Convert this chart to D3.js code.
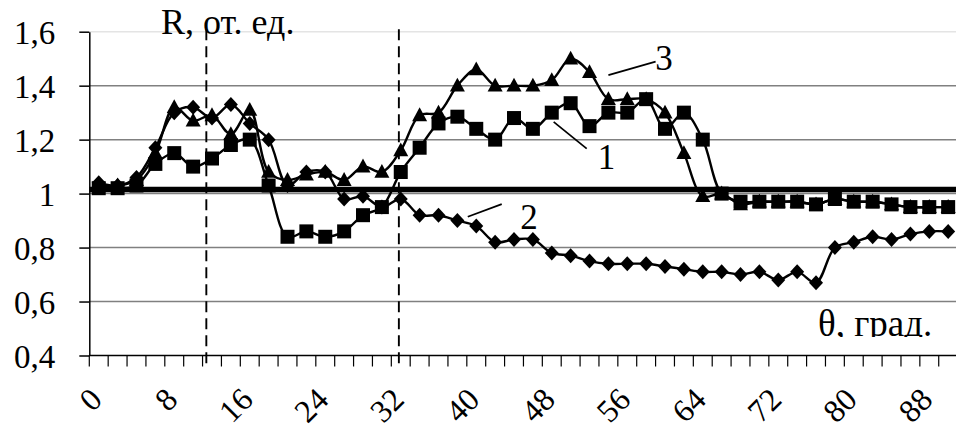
<!DOCTYPE html>
<html>
<head>
<meta charset="utf-8">
<script src="https://cdn.jsdelivr.net/npm/d3@7"></script>
<style>
  body { margin: 0; background: #fff; }
  svg text { font-family: "Liberation Serif", "Times New Roman", "DejaVu Serif", serif; fill: #000; }
</style>
</head>
<body>
<div id="chart"></div>
<script>
// angles, degrees (one category every 2 degrees)
var theta = [0, 2, 4, 6, 8, 10, 12, 14, 16, 18, 20, 22, 24, 26, 28, 30, 32, 34, 36, 38, 40, 42, 44,
             46, 48, 50, 52, 54, 56, 58, 60, 62, 64, 66, 68, 70, 72, 74, 76, 78, 80, 82, 84, 86, 88, 90];
var tickLabels = [0, 8, 16, 24, 32, 40, 48, 56, 64, 72, 80, 88];
var yTicks = [0.4, 0.6, 0.8, 1.0, 1.2, 1.4, 1.6];

// series 1 - squares
var series1 = [1.02, 1.02, 1.03, 1.11, 1.15, 1.10, 1.13, 1.18, 1.20, 1.03, 0.84, 0.86, 0.84, 0.86, 0.92, 0.95,
               1.08, 1.17, 1.26, 1.285, 1.24, 1.20, 1.28, 1.24, 1.30, 1.335, 1.25, 1.30, 1.30, 1.35, 1.24, 1.30,
               1.20, 1.00, 0.97, 0.97, 0.97, 0.97, 0.96, 0.98, 0.97, 0.97, 0.96, 0.95, 0.95, 0.95];
// series 2 - diamonds
var series2 = [1.04, 1.03, 1.06, 1.17, 1.30, 1.32, 1.28, 1.33, 1.26, 1.20, 1.03, 1.08, 1.08, 0.98, 0.99, 0.95,
               0.98, 0.92, 0.92, 0.90, 0.88, 0.82, 0.83, 0.83, 0.78, 0.77, 0.75, 0.74, 0.74, 0.74, 0.73, 0.72,
               0.71, 0.71, 0.70, 0.71, 0.68, 0.71, 0.67, 0.80, 0.82, 0.84, 0.83, 0.85, 0.86, 0.86];
// series 3 - triangles
var series3 = [1.03, 1.03, 1.05, 1.15, 1.32, 1.27, 1.29, 1.22, 1.31, 1.08, 1.05, 1.07, 1.08, 1.05, 1.10, 1.08,
               1.16, 1.29, 1.30, 1.40, 1.46, 1.40, 1.40, 1.40, 1.42, 1.50, 1.45, 1.35, 1.35, 1.35, 1.30, 1.15,
               0.99, 1.00, 0.96, 0.97, 0.97, 0.97, 0.96, 0.98, 0.97, 0.97, 0.96, 0.95, 0.95, 0.95];

var refLevel = 1.015;          // thick reference line
var dashedAt = [11.4, 31.8];   // vertical dashed markers, degrees

// curve labels: [label, theta, R] and leader lines [theta1, R1, theta2, R2]
var curveLabels = [["1", 53.8, 1.135], ["2", 45.6, 0.916], ["3", 59.9, 1.504]];
var leaders = [[48.2, 1.266, 51.7, 1.167], [39.1, 0.914, 42.7, 0.961], [54.0, 1.439, 59.0, 1.489]];

var serif = "'Liberation Serif', 'Times New Roman', 'DejaVu Serif', serif";

var width = 956, height = 432;
var margin = { top: 31.7, right: -1.6, bottom: 76.5, left: 89.3 };
var w = width - margin.left - margin.right;
var h = height - margin.top - margin.bottom;

var svg = d3.select("#chart").append("svg")
  .attr("width", width).attr("height", height)
  .attr("font-family", serif);
var g = svg.append("g").attr("transform", "translate(" + margin.left + "," + margin.top + ")");

var x = d3.scaleBand().domain(theta).range([0, w]);
var xl = d3.scaleLinear().domain([-1, 91]).range([0, w]);
var y = d3.scaleLinear().domain([0.4, 1.6]).range([h, 0]);

function cx(d, i) { return x(theta[i]) + x.bandwidth() / 2; }

// gridlines
g.selectAll(".grid").data(yTicks.filter(function (d) { return d > 0.4; }))
  .enter().append("line")
  .attr("x1", 0).attr("x2", w)
  .attr("y1", function (d) { return y(d); }).attr("y2", function (d) { return y(d); })
  .attr("stroke", function (d) { return d === 1.6 ? "#e4e4e4" : "#808080"; })
  .attr("stroke-width", 1.5);

// thick reference line
g.append("line")
  .attr("x1", 0).attr("x2", w)
  .attr("y1", y(refLevel)).attr("y2", y(refLevel))
  .attr("stroke", "#000").attr("stroke-width", 5.5);

// y axis
var yAxis = d3.axisLeft(y).tickValues(yTicks).tickSize(10).tickSizeOuter(0)
  .tickFormat(function (d) { return d3.format(".1f")(d).replace(".0", "").replace(".", ","); });
var ya = g.append("g").call(yAxis).attr("font-family", serif);
ya.select(".domain").attr("stroke", "#000").attr("stroke-width", 1.5);
ya.selectAll(".tick line").attr("stroke", "#000").attr("stroke-width", 1.5);
ya.selectAll(".tick text")
  .attr("x", -34).attr("dy", "0.35em")
  .style("font-size", "33px").style("font-family", serif);

// x axis: ticks between categories, labels every 8 degrees
var xa = g.append("g").attr("transform", "translate(0," + h + ")");
xa.append("line").attr("x1", 0).attr("x2", w).attr("stroke", "#000").attr("stroke-width", 1.5);
xa.selectAll(".xt").data(theta.concat([92]))
  .enter().append("line")
  .attr("x1", function (d) { return xl(d - 1); }).attr("x2", function (d) { return xl(d - 1); })
  .attr("y1", 0).attr("y2", 11)
  .attr("stroke", "#000").attr("stroke-width", 1.2);
xa.selectAll(".xl").data(tickLabels)
  .enter().append("text")
  .attr("transform", function (d) { return "translate(" + (x(d) + x.bandwidth() / 2 + 5) + ",46) rotate(-45)"; })
  .attr("text-anchor", "end")
  .style("font-size", "32px").style("font-family", serif)
  .text(function (d) { return d; });

// dashed markers
g.selectAll(".dash").data(dashedAt)
  .enter().append("line")
  .attr("x1", function (d) { return xl(d); }).attr("x2", function (d) { return xl(d); })
  .attr("y1", -2.5).attr("y2", h + 8)
  .attr("stroke", "#000").attr("stroke-width", 1.9)
  .attr("stroke-dasharray", "11,6");

// series
var line = d3.line()
  .x(cx)
  .y(function (d) { return y(d); })
  .curve(d3.curveCatmullRom.alpha(0.5));

var shapes = {
  square: "M-7,-7H7V7H-7Z",
  diamond: "M0,-7.5L7,0L0,7.5L-7,0Z",
  triangle: "M0,-8L7.5,5.8H-7.5Z"
};
var all = [[series1, "square"], [series2, "diamond"], [series3, "triangle"]];

all.forEach(function (s) {
  g.append("path").datum(s[0])
    .attr("fill", "none").attr("stroke", "#000").attr("stroke-width", 2.4)
    .attr("d", line);
});
all.forEach(function (s) {
  g.selectAll(null).data(s[0])
    .enter().append("path")
    .attr("transform", function (d, i) { return "translate(" + cx(d, i) + "," + y(d) + ")"; })
    .attr("d", shapes[s[1]])
    .attr("fill", "#000");
});

// curve labels and leader lines
g.selectAll(".leader").data(leaders)
  .enter().append("line")
  .attr("x1", function (d) { return xl(d[0]); }).attr("y1", function (d) { return y(d[1]); })
  .attr("x2", function (d) { return xl(d[2]); }).attr("y2", function (d) { return y(d[3]); })
  .attr("stroke", "#000").attr("stroke-width", 1.7);
g.selectAll(".clab").data(curveLabels)
  .enter().append("text")
  .attr("x", function (d) { return xl(d[1]); }).attr("y", function (d) { return y(d[2]); })
  .attr("text-anchor", "middle").attr("dy", "0.35em")
  .style("font-size", "35px").style("font-family", serif)
  .text(function (d) { return d[0]; });

// axis titles
svg.append("text")
  .attr("x", margin.left + xl(6.6)).attr("y", 34)
  .style("font-size", "36px").style("font-family", serif)
  .text("R, от. ед.");

svg.append("defs").append("clipPath").attr("id", "tclip")
  .append("rect").attr("x", 700).attr("y", 280).attr("width", 256).attr("height", 57);
svg.append("text")
  .attr("clip-path", "url(#tclip)")
  .attr("x", margin.left + xl(76.2)).attr("y", 336)
  .style("font-size", "37px").style("font-family", serif)
  .text("θ, град.");
</script>
</body>
</html>
